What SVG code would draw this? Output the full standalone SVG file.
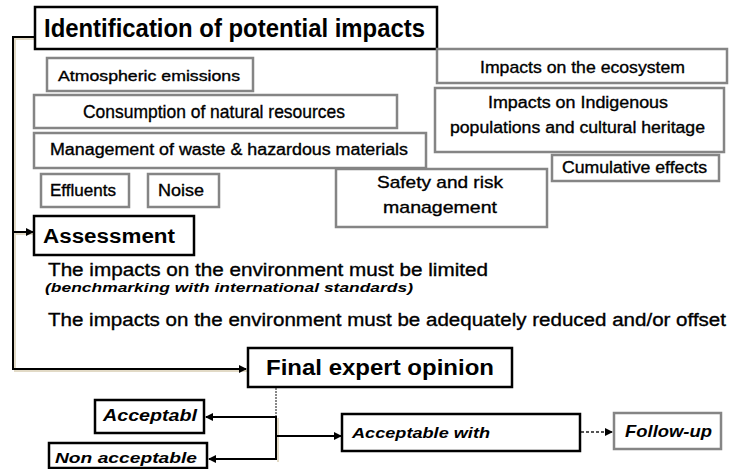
<svg xmlns="http://www.w3.org/2000/svg" width="732" height="469" viewBox="0 0 732 469">
<style>
text{font-family:"Liberation Sans",Arial,sans-serif;fill:#000;stroke:#000;stroke-width:0.35}
.b{font-weight:bold;stroke-width:0}
.k{fill:#fff;stroke:#000;stroke-width:2.5}
.g{fill:#fff;stroke:#858585;stroke-width:2.5}
.ln{fill:none;stroke:#000;stroke-width:2}
.sh{fill:none;stroke:#e2dac6;stroke-width:2}
.it{font-style:italic;font-weight:bold;stroke-width:0}
</style>
<defs>
<marker id="ar" markerWidth="8" markerHeight="8" refX="7" refY="4" orient="auto" markerUnits="userSpaceOnUse">
<path d="M0,0 L8,4 L0,8 z" fill="#000"/>
</marker>
</defs>
<rect width="732" height="469" fill="#fff"/>
<g id="connectors">
<path class="sh" d="M35,39 H15 V371 H247"/>
<path class="ln" d="M35,37 H13 V369 H246" marker-end="url(#ar)"/>
<path class="sh" d="M15,234 H33"/>
<path class="ln" d="M13,232 H33" marker-end="url(#ar)"/>
<path d="M276,388 V416" fill="none" stroke="#888" stroke-width="2" stroke-dasharray="2,1"/>
<path class="ln" d="M276,416 V460"/>
<path class="sh" d="M278,418 V462"/>
<path class="ln" d="M276,417 H206" marker-end="url(#ar)"/>
<path class="ln" d="M276,459 H209" marker-end="url(#ar)"/>
<path class="ln" d="M276,436 H341" marker-end="url(#ar)"/>
<path d="M581,432 H612" fill="none" stroke="#555" stroke-width="2" stroke-dasharray="3,2" marker-end="url(#ar)"/>
</g>
<g id="n-title">
<rect class="k" x="35" y="7" width="402" height="42" stroke-width="3"/>
<text class="b" x="44" y="37" font-size="26" textLength="381" lengthAdjust="spacingAndGlyphs">Identification of potential impacts</text>
</g>
<g id="n-atmo">
<rect class="g" x="47" y="58" width="206" height="33"/>
<text x="58" y="81" font-size="15" textLength="182" lengthAdjust="spacingAndGlyphs">Atmospheric emissions</text>
</g>
<g id="n-cons">
<rect class="g" x="34" y="95" width="363" height="33"/>
<text x="83" y="118" font-size="19" textLength="262" lengthAdjust="spacingAndGlyphs">Consumption  of natural resources</text>
</g>
<g id="n-mgmt">
<rect class="g" x="34" y="133" width="392" height="35"/>
<text x="50" y="155" font-size="16" textLength="358" lengthAdjust="spacingAndGlyphs">Management of waste &amp; hazardous materials</text>
</g>
<g id="n-effl">
<rect class="g" x="41" y="174" width="88" height="33"/>
<text x="50" y="196" font-size="16" textLength="66" lengthAdjust="spacingAndGlyphs">Effluents</text>
</g>
<g id="n-noise">
<rect class="g" x="148" y="174" width="71" height="33"/>
<text x="158" y="196" font-size="16" textLength="46" lengthAdjust="spacingAndGlyphs">Noise</text>
</g>
<g id="n-safety">
<rect class="g" x="336" y="169" width="211" height="58"/>
<text x="377" y="188" font-size="17" textLength="126" lengthAdjust="spacingAndGlyphs">Safety and risk</text>
<text x="383" y="213" font-size="17" textLength="114" lengthAdjust="spacingAndGlyphs">management</text>
</g>
<g id="n-eco">
<rect class="g" x="437" y="49" width="290" height="34"/>
<text x="480" y="73" font-size="17" textLength="205" lengthAdjust="spacingAndGlyphs">Impacts on the ecosystem</text>
</g>
<g id="n-indig">
<rect class="g" x="435" y="88" width="289" height="64"/>
<text x="488" y="108" font-size="16" textLength="180" lengthAdjust="spacingAndGlyphs">Impacts on Indigenous</text>
<text x="450" y="133" font-size="16" textLength="255" lengthAdjust="spacingAndGlyphs">populations  and cultural heritage</text>
</g>
<g id="n-cumul">
<rect class="g" x="552" y="155" width="167" height="26"/>
<text x="562" y="173" font-size="16" textLength="145" lengthAdjust="spacingAndGlyphs">Cumulative  effects</text>
</g>
<g id="n-assess">
<rect class="k" x="34" y="216" width="160" height="39"/>
<text class="b" x="43" y="243" font-size="20" textLength="132" lengthAdjust="spacingAndGlyphs">Assessment</text>
</g>
<g id="n-text">
<text x="48" y="276" font-size="18" textLength="440" lengthAdjust="spacingAndGlyphs">The  impacts on the environment  must be limited</text>
<text class="it" x="45" y="292" font-size="13" textLength="368" lengthAdjust="spacingAndGlyphs">(benchmarking with international standards)</text>
<text x="48" y="326" font-size="18" textLength="678" lengthAdjust="spacingAndGlyphs">The  impacts on the environment  must be adequately reduced and/or offset</text>
</g>
<g id="n-final">
<rect class="k" x="248" y="348" width="264" height="39"/>
<text class="b" x="266" y="375" font-size="22" textLength="228" lengthAdjust="spacingAndGlyphs">Final expert opinion</text>
</g>
<g id="n-acc">
<rect class="k" x="95" y="400" width="109" height="33"/>
<text class="it" x="103" y="421" font-size="17" textLength="94" lengthAdjust="spacingAndGlyphs">Acceptabl</text>
</g>
<g id="n-nonacc">
<rect class="k" x="49" y="443" width="158" height="25"/>
<text class="it" x="55" y="463" font-size="14" textLength="142" lengthAdjust="spacingAndGlyphs">Non acceptable</text>
</g>
<g id="n-accw">
<rect class="k" x="342" y="414" width="238" height="37"/>
<text class="it" x="352" y="438" font-size="15" textLength="138" lengthAdjust="spacingAndGlyphs">Acceptable with</text>
</g>
<g id="n-follow">
<rect class="g" x="614" y="413" width="107" height="36"/>
<text class="it" x="625" y="437" font-size="17" textLength="87" lengthAdjust="spacingAndGlyphs">Follow-up</text>
</g>
</svg>
